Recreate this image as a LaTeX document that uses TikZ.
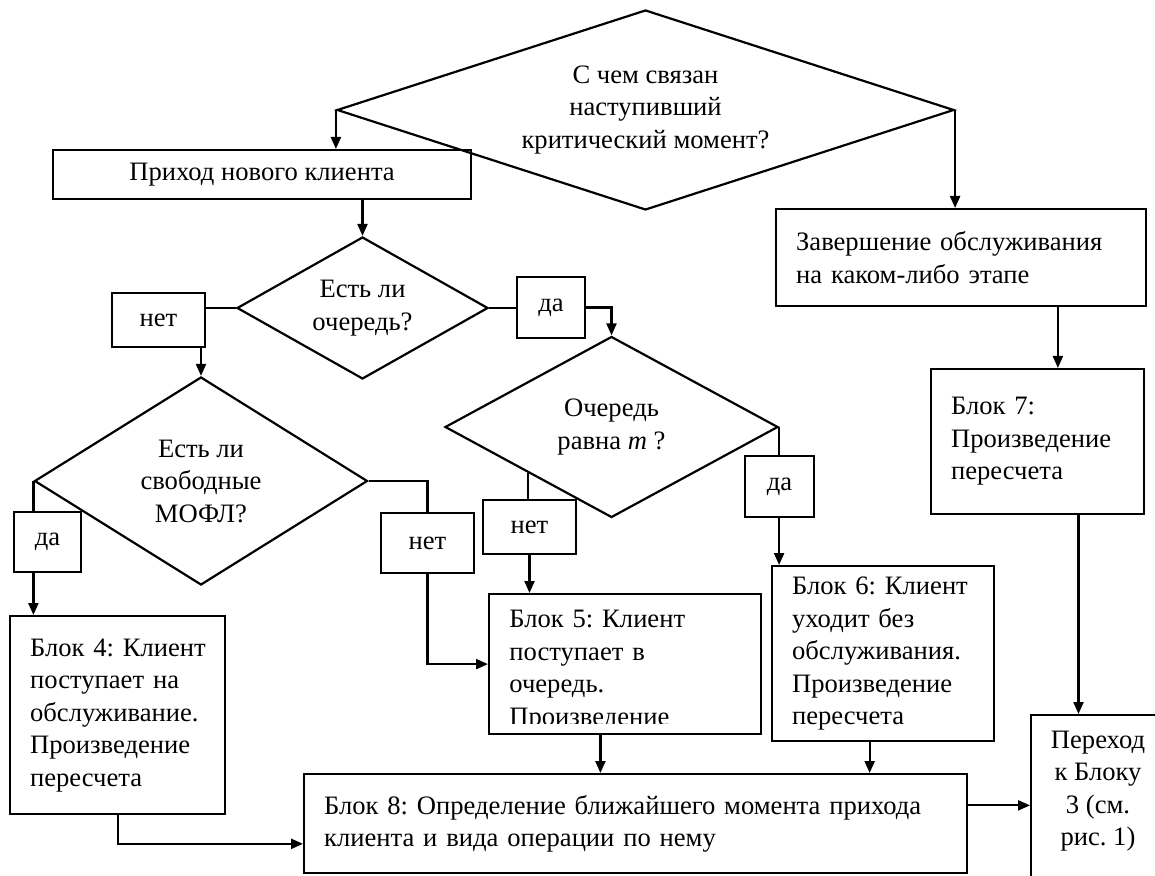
\documentclass[tikz,border=0pt]{standalone}
\usepackage{fontspec}
\setmainfont{Liberation Serif}
\frenchspacing
\hyphenpenalty=10000
\usetikzlibrary{positioning, calc, shapes.geometric, arrows.meta}
\tikzset{
    decision node/.style={diamond, draw, inner sep=0pt, align=center, line width=1.1pt},
    block node/.style={rectangle, draw, anchor=north west, align=left, inner xsep=10pt, inner ysep=0pt, line width=1.1pt},
    answer node/.style={rectangle, draw, inner sep=0pt, line width=1.1pt},
    flow line/.style={line width=1.1pt},
    flow arrow/.style={line width=1.1pt, -{Triangle[length=6pt, width=5pt]}},
}

\begin{document}
\begin{tikzpicture}[x=0.5pt, y=-0.5pt, font=\fontsize{13.3}{16.25}\selectfont]
    \path[use as bounding box, clip] (0,0) rectangle (1155,876);
    \node[decision node, aspect=3.08, minimum width=308.5pt, minimum height=100pt] (crit) at (645.5,110) {С чем связан\\наступивший\\критический момент?};
    \node[block node, align=center, minimum width=209pt, minimum height=24.5pt] (arrival) at (52,149) {Приход нового клиента};
    \node[decision node, aspect=1.77, minimum width=125.5pt, minimum height=71pt] (queue) at (362.5,308) {Есть ли\\очередь?};
    \node[answer node, minimum width=46.5pt, minimum height=27pt] (no1) at (158.5,320) {нет};
    \node[answer node, minimum width=34pt, minimum height=30.5pt] (yes1) at (551,307.5) {да};
    \node[decision node, aspect=1.6, minimum width=166.5pt, minimum height=104pt] (free) at (201,481) {Есть ли\\свободные\\МОФЛ?};
    \node[answer node, minimum width=33.5pt, minimum height=30pt] (yes2) at (47.5,542) {да};
    \node[answer node, minimum width=46.5pt, minimum height=30pt] (no2) at (427.5,543) {нет};
    \node[decision node, aspect=1.84, minimum width=166.5pt, minimum height=90.5pt] (full) at (611.5,427) {Очередь\\равна \textit{m} ?};
    \node[answer node, minimum width=46.5pt, minimum height=27pt] (no3) at (529.5,527) {нет};
    \node[answer node, minimum width=34.5pt, minimum height=30.5pt] (yes3) at (779.5,486.5) {да};
    \node[block node, text width=165pt, minimum height=48.5pt] (finish) at (775,208) {Завершение обслуживания\\на каком-либо этапе};
    \node[block node, text width=86.5pt, minimum height=72.5pt] (block7) at (930,368) {Блок 7:\\Произведение\\пересчета};
    \node[block node, text width=87.5pt, minimum height=99pt] (block4) at (9,615) {Блок~4:~Клиент\\поступает на\\обслуживание.\\Произведение\\пересчета};
    \node[block node, minimum width=136pt, minimum height=70pt] (block5) at (488,593) {};
    \begin{scope}
        \clip (block5.north west) rectangle ([yshift=6pt]block5.south east);
        \node[anchor=north west, align=left, inner sep=0pt, text width=116pt] (block5text) at (509,610) {Блок~5:~Клиент\\поступает в\\очередь.\\Произведение};
    \end{scope}
    \node[block node, text width=91pt, minimum height=87.5pt] (block6) at (771,565) {Блок~6:~Клиент\\уходит без\\обслуживания.\\Произведение\\пересчета};
    \node[block node, text width=311.5pt, minimum height=49.5pt] (block8) at (303,773) {Блок 8: Определение ближайшего момента прихода\\клиента и вида операции по нему};
    \node[block node, minimum width=70pt, minimum height=93pt] (jump) at (1030,714) {};
    \node[align=center, inner sep=0pt] (jumptext) at (1098,791) {Переход\\к Блоку\\3 (см.\\рис. 1)};

    \coordinate (in7) at ($(finish.south west)!0.76!(finish.south east)$);
    \coordinate (out7) at ($(block7.south west)!0.69!(block7.south east)$);
    \coordinate (out5) at ($(block5.south west)!0.41!(block5.south east)$);
    \coordinate (out6) at ($(block6.south west)!0.44!(block6.south east)$);
    \coordinate (in8) at ($(block8.north west)!0.7!(block8.south west)$);
    \coordinate (out8) at ($(block8.north east)!0.32!(block8.south east)$);

    \draw[flow arrow] (crit.west) -- (crit.west |- arrival.north);
    \draw[flow arrow] (crit.east) -- (crit.east |- finish.north);
    \draw[flow arrow] (queue.north |- arrival.south) -- (queue.north);
    \draw[flow line] (queue.west) -- (queue.west -| no1.east);
    \draw[flow arrow] (free.north |- no1.south) -- (free.north);
    \draw[flow line] (queue.east) -- (queue.east -| yes1.west);
    \draw[flow arrow] (yes1.east) -| (full.north);
    \draw[flow line] (free.west) -- (free.west |- yes2.north);
    \draw[flow arrow] (free.west |- yes2.south) -- (free.west |- block4.north);
    \draw[flow line] (free.east) -| (no2.north);
    \draw[flow arrow] (no2.south) |- (block5.west);
    \draw[flow line] (full.south west) -- (full.south west |- no3.north);
    \draw[flow arrow] (no3.south) -- (no3.south |- block5.north);
    \draw[flow line] (full.east) -- (full.east |- yes3.north);
    \draw[flow arrow] (full.east |- yes3.south) -- (full.east |- block6.north);
    \draw[flow arrow] (in7) -- (in7 |- block7.north);
    \draw[flow arrow] (out7) -- (out7 |- jump.north);
    \draw[flow arrow] (block4.south) |- (in8);
    \draw[flow arrow] (out5) -- (out5 |- block8.north);
    \draw[flow arrow] (out6) -- (out6 |- block8.north);
    \draw[flow arrow] (out8) -- (out8 -| jump.west);
\end{tikzpicture}
\end{document}
